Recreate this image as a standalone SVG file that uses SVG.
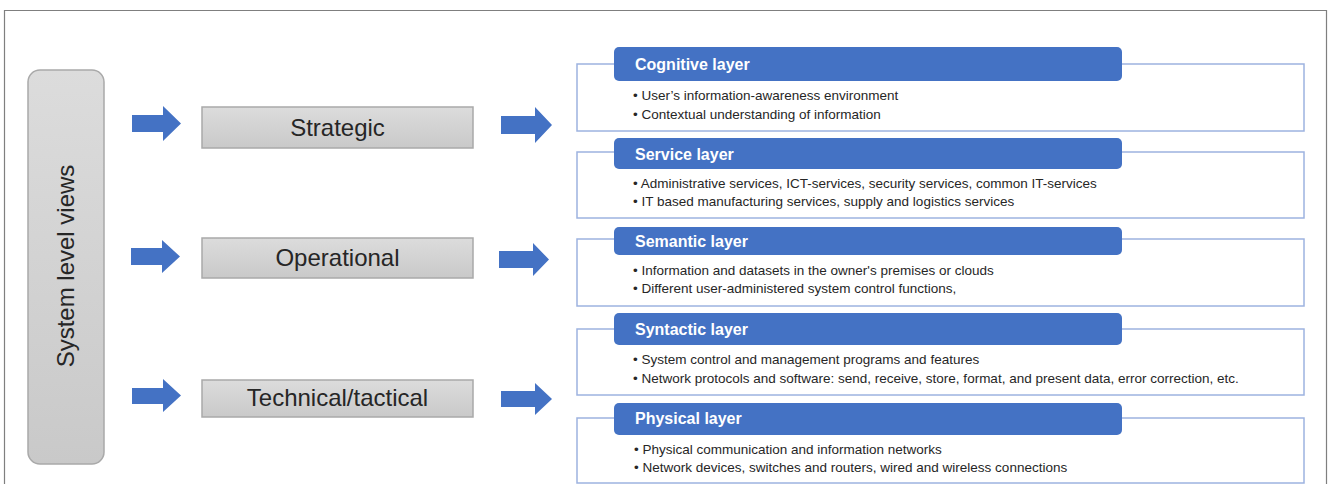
<svg xmlns="http://www.w3.org/2000/svg" width="1328" height="484" viewBox="0 0 1328 484">
<defs>
<linearGradient id="gray" x1="0" y1="0" x2="0" y2="1">
<stop offset="0" stop-color="#dcdcdc"/>
<stop offset="1" stop-color="#c9c9c9"/>
</linearGradient>
<style>
.frame{fill:none;stroke:#7f7f7f;stroke-width:1.2}
.gbox{fill:url(#gray);stroke:#a9a9a9;stroke-width:1.5}
.gtxt{font-family:"Liberation Sans",Arial,sans-serif;font-size:24px;fill:#262626;text-anchor:middle;dominant-baseline:central}
.arrow{fill:#4472C4}
.outline{fill:#ffffff;stroke:#9db3e0;stroke-width:1.5}
.hdr{fill:#4472C4}
.htxt{font-family:"Liberation Sans",Arial,sans-serif;font-size:16px;font-weight:bold;fill:#ffffff;dominant-baseline:central}
.btxt{font-family:"Liberation Sans",Arial,sans-serif;font-size:13.5px;fill:#262626;dominant-baseline:central}
</style>
</defs>
<rect width="1328" height="484" fill="#ffffff"/>
<path class="frame" d="M4.5,484 V10.5 H1326.5 V484"/>

<g id="system-level-views">
<rect class="gbox" x="28" y="70" width="76" height="394" rx="12"/>
<text class="gtxt" transform="translate(65,266) rotate(-90)" x="0" y="0">System level views</text>
</g>

<g id="strategic">
<rect class="gbox" x="202" y="107" width="271" height="41"/>
<text class="gtxt" x="337.5" y="127">Strategic</text>
</g>
<g id="operational">
<rect class="gbox" x="202" y="238" width="271" height="40"/>
<text class="gtxt" x="337.5" y="257">Operational</text>
</g>
<g id="technical-tactical">
<rect class="gbox" x="202" y="380" width="271" height="37"/>
<text class="gtxt" x="337.5" y="397">Technical/tactical</text>
</g>

<g id="connectors">
<polygon class="arrow" points="132,115 163,115 163,106 181,123.5 163,141 163,132 132,132"/>
<polygon class="arrow" points="131,248 162,248 162,240 180,256.5 162,273 162,265 131,265"/>
<polygon class="arrow" points="132,388 163,388 163,379 181,395.5 163,412 163,404 132,404"/>
<polygon class="arrow" points="501,116 535,116 535,107 552,125 535,143 535,134 501,134"/>
<polygon class="arrow" points="499,251 533,251 533,243 549,259.5 533,276 533,268 499,268"/>
<polygon class="arrow" points="501,391 535,391 535,383 552,399 535,415 535,407 501,407"/>
</g>

<g id="cognitive-layer">
<rect class="outline" x="577" y="64" width="727" height="67"/>
<rect class="hdr" x="614" y="47" width="508" height="34" rx="5"/>
<text class="htxt" x="635" y="64">Cognitive layer</text>
<text class="btxt" x="633" y="95">• User’s information-awareness environment</text>
<text class="btxt" x="633" y="114">• Contextual understanding of information</text>
</g>

<g id="service-layer">
<rect class="outline" x="577" y="152" width="727" height="66"/>
<rect class="hdr" x="614" y="138" width="508" height="31" rx="5"/>
<text class="htxt" x="635" y="154">Service layer</text>
<text class="btxt" x="633" y="183">• Administrative services, ICT-services, security services, common IT-services</text>
<text class="btxt" x="633" y="201">• IT based manufacturing services, supply and logistics services</text>
</g>

<g id="semantic-layer">
<rect class="outline" x="577" y="239" width="727" height="67"/>
<rect class="hdr" x="614" y="227" width="508" height="28" rx="5"/>
<text class="htxt" x="635" y="241">Semantic layer</text>
<text class="btxt" x="633" y="270">• Information and datasets in the owner's premises or clouds</text>
<text class="btxt" x="633" y="288">• Different user-administered system control functions,</text>
</g>

<g id="syntactic-layer">
<rect class="outline" x="577" y="329" width="727" height="66"/>
<rect class="hdr" x="614" y="313" width="508" height="32" rx="5"/>
<text class="htxt" x="635" y="329">Syntactic layer</text>
<text class="btxt" x="633" y="359">• System control and management programs and features</text>
<text class="btxt" x="633" y="378">• Network protocols and software: send, receive, store, format, and present data, error correction, etc.</text>
</g>

<g id="physical-layer">
<rect class="outline" x="577" y="418" width="727" height="65"/>
<rect class="hdr" x="614" y="403" width="508" height="32" rx="5"/>
<text class="htxt" x="635" y="418">Physical layer</text>
<text class="btxt" x="634" y="449">•  Physical communication and information networks</text>
<text class="btxt" x="634" y="467">•  Network devices, switches and routers, wired and wireless connections</text>
</g>
</svg>
